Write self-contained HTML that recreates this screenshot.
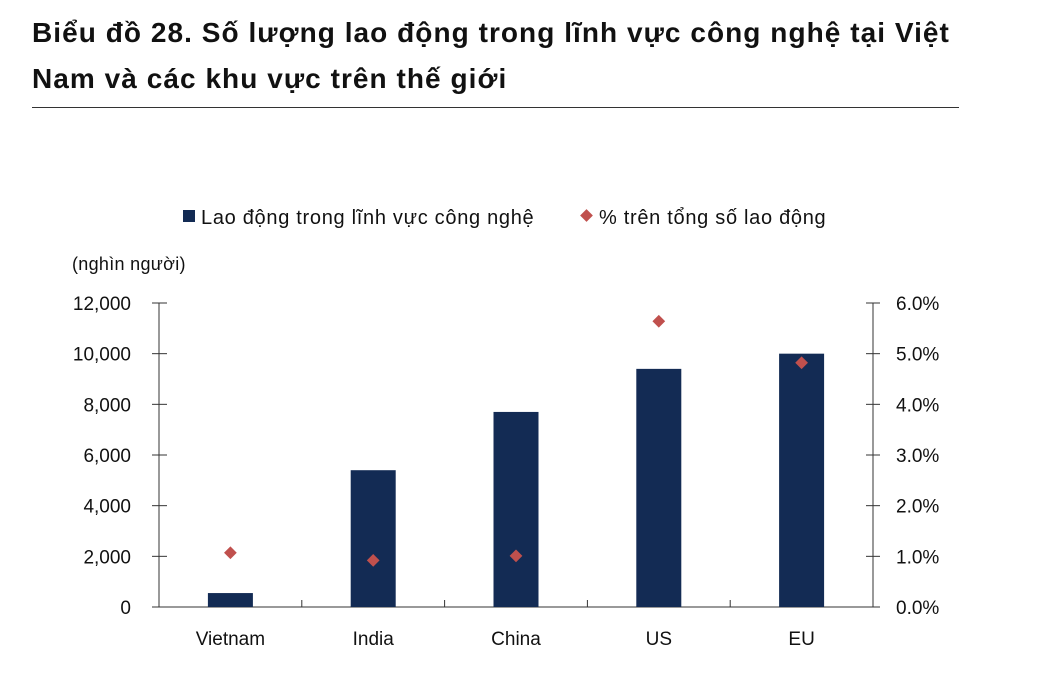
<!DOCTYPE html>
<html><head><meta charset="utf-8"><style>
body{margin:0;background:#fff;width:1038px;height:676px;overflow:hidden;font-family:"Liberation Sans","DejaVu Sans",sans-serif;}
#title{position:absolute;left:32px;top:10px;font-size:28px;letter-spacing:1.05px;font-weight:bold;line-height:46px;color:#111;width:1000px;white-space:nowrap;}
#rule{position:absolute;left:32px;top:107px;width:927px;height:1px;background:#333;}
svg{position:absolute;left:0;top:0;}
text{font-family:"Liberation Sans","DejaVu Sans",sans-serif;fill:#111;}
</style></head><body>
<div id="title">Biểu đồ 28. Số lượng lao động trong lĩnh vực công nghệ tại Việt<br>Nam và các khu vực trên thế giới</div>
<div id="rule"></div>
<svg id="chart" width="1038" height="676"></svg>
<script>
const categories=["Vietnam","India","China","US","EU"];
const workers=[550,5400,7700,9400,10000];
const shares=[1.07,0.92,1.01,5.64,4.82];
const leftTicks=[0,2000,4000,6000,8000,10000,12000];
const rightTicks=[0,1,2,3,4,5,6];
const NS="http://www.w3.org/2000/svg";
const svg=document.getElementById('chart');
const X0=159,X1=873,Y0=607,Y1=303;
const yL=v=>Y0-(v/12000)*(Y0-Y1);
const yR=v=>Y0-(v/6)*(Y0-Y1);
const bw=(X1-X0)/categories.length;
const xc=i=>X0+bw*(i+0.5);
function mk(t,a,txt){const e=document.createElementNS(NS,t);for(const k in a)e.setAttribute(k,a[k]);if(txt!==undefined)e.textContent=txt;svg.appendChild(e);return e;}
let e=mk('rect',{x:183,y:210,width:12,height:12,fill:'#132b54'});

e=mk('text',{x:201,y:224,'font-size':20,'letter-spacing':0.7},'Lao động trong lĩnh vực công nghệ');

e=mk('rect',{x:582,y:211,width:9,height:9,fill:'#c0504d',transform:'rotate(45 586.5 215.5)'});

e=mk('text',{x:599,y:224,'font-size':20,'letter-spacing':0.7},'% trên tổng số lao động');

e=mk('text',{x:72,y:270,'font-size':18,'letter-spacing':0.3},'(nghìn người)');

e=mk('line',{x1:X0,y1:Y1,x2:X0,y2:Y0,stroke:'#333'});

e=mk('line',{x1:X1,y1:Y1,x2:X1,y2:Y0,stroke:'#333'});

e=mk('line',{x1:152,y1:Y0,x2:880,y2:Y0,stroke:'#333'});

leftTicks.forEach(v=>{
 mk('line',{x1:152,y1:yL(v),x2:167,y2:yL(v),stroke:'#333'});
 const t=mk('text',{x:131,y:yL(v)+7,'font-size':19,'text-anchor':'end'},v.toLocaleString('en-US'));
 
 
});
rightTicks.forEach(v=>{
 mk('line',{x1:866,y1:yR(v),x2:880,y2:yR(v),stroke:'#333'});
 const t=mk('text',{x:896,y:yR(v)+7,'font-size':19},v.toFixed(1)+'%');
 
 
});
for(let i=1;i<categories.length;i++){mk('line',{x1:X0+bw*i,y1:Y0,x2:X0+bw*i,y2:Y0-7,stroke:'#333'});}
categories.forEach((c,i)=>{
 const b=mk('rect',{x:xc(i)-22.5,y:yL(workers[i]),width:45,height:Y0-yL(workers[i]),fill:'#132b54'});
 
 
 const cx=xc(i),cy=yR(shares[i]);
 const d=mk('rect',{x:cx-4.5,y:cy-4.5,width:9,height:9,fill:'#c0504d',transform:`rotate(45 ${cx} ${cy})`});
 
 
 const t=mk('text',{x:cx,y:645,'font-size':19,'text-anchor':'middle'},c);
 
 
});
</script>
</body></html>
